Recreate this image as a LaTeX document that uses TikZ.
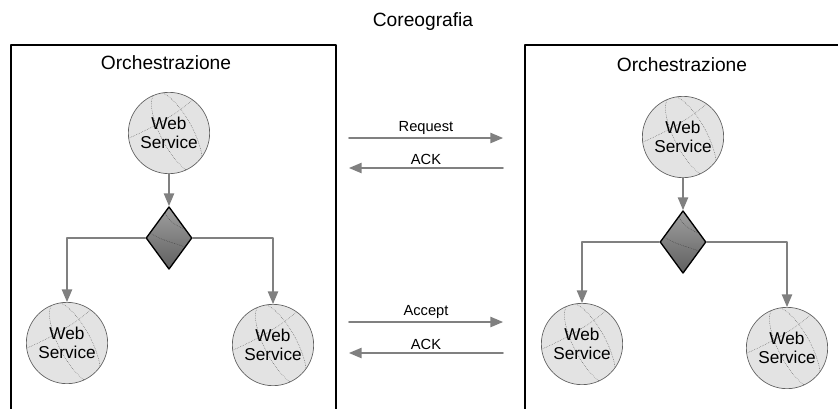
\documentclass[tikz,border=0pt]{standalone}
\usepackage{fontspec}
\setmainfont{Liberation Sans}
\usetikzlibrary{arrows,shapes.geometric}

\tikzset{
  ws/.style={circle,draw=gray!75!black,line width=0.5pt,fill=gray!22,minimum size=61pt,inner sep=0pt,
    align=center,font=\fontsize{12.9}{14}\selectfont,
    path picture={
      \draw[gray!55!black,densely dotted,line width=0.3pt]
        ([xshift=6pt]path picture bounding box.center) ellipse [x radius=12pt,y radius=34pt,rotate=28];
      \draw[gray!55!black,densely dotted,line width=0.3pt]
        ([yshift=-4pt]path picture bounding box.west) .. controls +(14pt,6pt) and +(-10pt,-14pt) .. ([xshift=-8pt]path picture bounding box.north east);
    }},
  gate/.style={diamond,draw=black,line width=1pt,top color=gray!75,bottom color=gray!75!black,
    minimum width=34.5pt,minimum height=47pt,inner sep=0pt,
    path picture={
      \draw[gray!40!black,densely dotted,line width=0.3pt]
        ([xshift=-4pt]path picture bounding box.north) .. controls +(2pt,-14pt) and +(-6pt,4pt) .. ([yshift=4pt]path picture bounding box.east);
      \draw[gray!40!black,densely dotted,line width=0.3pt]
        ([yshift=6pt]path picture bounding box.west) .. controls +(12pt,-10pt) and +(-6pt,6pt) .. ([yshift=-10pt]path picture bounding box.east);
    }},
  box/.style={draw=black,line width=1.3pt},
  conn/.style={->,draw=gray,line width=1.2pt},
  lbl/.style={font=\fontsize{11}{13}\selectfont,inner sep=2pt},
  ttl/.style={font=\fontsize{14.4}{17}\selectfont}
}

\begin{document}
\begin{tikzpicture}[line cap=round,line join=round,>=triangle 45,x=0.75pt,y=-0.75pt]
  \useasboundingbox (0,0) rectangle (838,408);
  \clip (0,0) rectangle (838,408);
  \node[ttl] (coreo) at (423,22) {Coreografia};
  % orchestrazione di sinistra
  \draw[box] (11,45) rectangle (336,430);
  \node[ttl] (orchA) at (166,63) {Orchestrazione};
  \node[ws] (wsA) at (169,133) {Web\\Service};
  \node[gate] (decA) at (169,238) {};
  \node[ws] (wsAl) at (67,343) {Web\\Service};
  \node[ws] (wsAr) at (273,345) {Web\\Service};
  \draw[conn] (wsA) -- (decA);
  \draw[conn] (decA.west) -| (wsAl);
  \draw[conn] (decA.east) -| (wsAr);
  % orchestrazione di destra
  \draw[box] (525,45) rectangle (860,430);
  \node[ttl] (orchB) at (682,65) {Orchestrazione};
  \node[ws] (wsB) at (683,137) {Web\\Service};
  \node[gate] (decB) at (683,242) {};
  \node[ws] (wsBl) at (582,344) {Web\\Service};
  \node[ws] (wsBr) at (787,348) {Web\\Service};
  \draw[conn] (wsB) -- (decB);
  \draw[conn] (decB.west) -| (wsBl);
  \draw[conn] (decB.east) -| (wsBr);
  % messaggi
  \coordinate (reqS) at (349,138);
  \coordinate (reqE) at (503,138);
  \coordinate (ackS) at (503,168);
  \coordinate (ackE) at (349,168);
  \coordinate (accS) at (349,322);
  \coordinate (accE) at (503,322);
  \coordinate (ack2S) at (503,353);
  \coordinate (ack2E) at (349,353);
  \draw[conn] (reqS) -- node[lbl,above] {Request} (reqE);
  \draw[conn] (ackS) -- node[lbl,above] {ACK} (ackE);
  \draw[conn] (accS) -- node[lbl,above] {Accept} (accE);
  \draw[conn] (ack2S) -- node[lbl,above] {ACK} (ack2E);
\end{tikzpicture}
\end{document}
